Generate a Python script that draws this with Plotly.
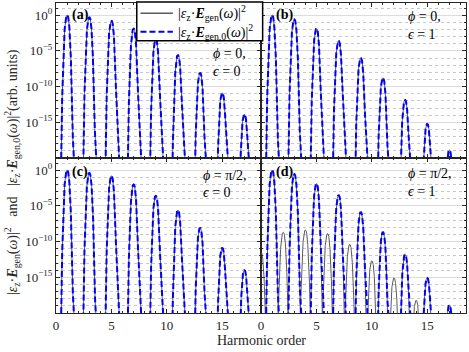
import numpy as np
import plotly.graph_objects as go
from plotly.subplots import make_subplots

# harmonic orders and peak heights
odd_orders = [1, 3, 5, 7, 9, 11, 13, 15, 17]
even_orders = [0, 2, 4, 6, 8, 10, 12, 14, 16]

peaks_a = [1.0, 5e-1, 1.6e-1, 1.3e-2, 4e-4, 2.5e-6, 8e-9, 1.3e-11, 1.3e-14]
peaks_b = [1.0, 2.5e-1, 1.3e-2, 2.5e-4, 1e-6, 1.6e-9, 1.3e-12, 6e-16, 1.3e-19]
peaks_c = [1.0, 4e-1, 1.6e-1, 1e-2, 2.5e-4, 2.5e-6, 8e-9, 1.3e-11, 1e-14]
peaks_d = [1.0, 2.8e-1, 1.3e-2, 3e-4, 1.3e-6, 2e-9, 1.6e-12, 8e-16, 1.3e-19]
even_peaks_d = [3e-12, 2e-9, 4e-9, 1.3e-9, 4e-11, 2e-13, 8e-16, 6e-19, 3e-22]

# peak profile: drop in decades = peak_k * |x - n| ** peak_p (read from peak widths)
peak_k = 89
peak_p = 2.5

panel_labels = ["(a)", "(b)", "(c)", "(d)"]
phi_text = ["0,", "0,", "π/2,", "π/2,"]
eps_text = ["0", "1", "0", "1"]

x = np.linspace(0, 18.5, 3000)


def spectrum(orders, heights):
    y = np.zeros_like(x)
    for n, h in zip(orders, heights):
        y += h * 10 ** (-peak_k * np.abs(x - n) ** peak_p)
    return np.maximum(y, 1e-40)


FONT = "Liberation Serif, DejaVu Serif, serif"
TXT = "#262626"
GRAY_LINE = "rgb(90,90,90)"

fig = make_subplots(rows=2, cols=2, shared_xaxes=True, shared_yaxes=True,
                    horizontal_spacing=0, vertical_spacing=0)

panels = [
    (1, 1, spectrum(odd_orders, peaks_a), spectrum(odd_orders, peaks_a)),
    (1, 2, spectrum(odd_orders, peaks_b), spectrum(odd_orders, peaks_b)),
    (2, 1, spectrum(odd_orders, peaks_c), spectrum(odd_orders, peaks_c)),
    (2, 2, spectrum(odd_orders, peaks_d) + spectrum(even_orders, even_peaks_d),
     spectrum(odd_orders, peaks_d)),
]

name_gen = "|<i>ε</i><sub>z</sub>·<b><i>E</i></b><sub>gen</sub>(<i>ω</i>)|<sup>2</sup>"
name_gen0 = "|<i>ε</i><sub>z</sub>·<b><i>E</i></b><sub>gen,0</sub>(<i>ω</i>)|<sup>2</sup>"

for i, (r, c, y_full, y_0) in enumerate(panels):
    fig.add_trace(go.Scatter(x=x, y=y_full, mode="lines", name=name_gen,
                             line=dict(color=GRAY_LINE, width=1),
                             showlegend=False), row=r, col=c)
    fig.add_trace(go.Scatter(x=x, y=y_0, mode="lines", name=name_gen0,
                             line=dict(color="blue", width=2, dash="6px,3px"),
                             showlegend=False), row=r, col=c)

major_y = [1, 1e-5, 1e-10, 1e-15]
major_y_text = ["10<sup>0</sup>", "10<sup>−5</sup>", "10<sup>−10</sup>", "10<sup>−15</sup>"]
minor_y = [10.0 ** -k for k in range(1, 20) if k % 5 != 0] + [10.0]

fig.update_yaxes(type="log", range=[-20, 1.7], tickvals=major_y, ticktext=major_y_text,
                 ticks="inside", ticklen=4, tickcolor=TXT, automargin=False,
                 showline=True, linecolor=TXT, linewidth=1, mirror="ticks",
                 showgrid=True, gridcolor="#dcdcdc", gridwidth=1, zeroline=False,
                 minor=dict(tickvals=minor_y, ticks="inside", ticklen=2, tickcolor=TXT,
                            showgrid=True, gridcolor="#c8c8c8", griddash="dot"),
                 tickfont=dict(family=FONT, size=13, color=TXT))
fig.update_xaxes(range=[0, 18.5], tickvals=[0, 5, 10, 15], automargin=False,
                 ticks="inside", ticklen=4, tickcolor=TXT,
                 showline=True, linecolor=TXT, linewidth=1, mirror="ticks",
                 showgrid=False, zeroline=False,
                 minor=dict(tickvals=list(range(1, 19)), ticks="inside", ticklen=2,
                            tickcolor=TXT, showgrid=False),
                 tickfont=dict(family=FONT, size=13, color=TXT))

# panel labels and parameter text
axis_ids = ["", "2", "3", "4"]
label_pos = [(0.068, 0.925), (0.064, 0.925), (0.068, 0.91), (0.064, 0.91)]
param_pos = [(0.756, 0.677, 0.555), (0.706, 0.91, 0.794),
             (0.707, 0.89, 0.776), (0.709, 0.9, 0.783)]
for i, ax in enumerate(axis_ids):
    lx, ly = label_pos[i]
    fig.add_annotation(xref=f"x{ax} domain", yref=f"y{ax} domain", x=lx, y=ly,
                       xanchor="left", yanchor="middle", showarrow=False,
                       text=f"<b>{panel_labels[i]}</b>",
                       font=dict(family=FONT, size=14, color="black"))
    px, py1, py2 = param_pos[i]
    fig.add_annotation(xref=f"x{ax} domain", yref=f"y{ax} domain", x=px, y=py1,
                       xanchor="left", yanchor="middle", showarrow=False,
                       text=f"<i>ϕ</i> = {phi_text[i]}",
                       font=dict(family=FONT, size=14, color="black"))
    fig.add_annotation(xref=f"x{ax} domain", yref=f"y{ax} domain", x=px, y=py2,
                       xanchor="left", yanchor="middle", showarrow=False,
                       text=f"<i>ϵ</i> = {eps_text[i]}",
                       font=dict(family=FONT, size=14, color="black"))

# legend box drawn by hand (plotly's legend grows too tall with sub/superscripts)
fig.add_shape(type="rect", xref="paper", yref="paper", x0=0.197, x1=0.504, y0=0.878, y1=1.003,
              line=dict(color="black", width=1.5), fillcolor="white", layer="above")
fig.add_shape(type="line", xref="paper", yref="paper", x0=0.206, x1=0.285, y0=0.967, y1=0.967,
              line=dict(color=GRAY_LINE, width=1.5), layer="above")
fig.add_shape(type="line", xref="paper", yref="paper", x0=0.206, x1=0.285, y0=0.907, y1=0.907,
              line=dict(color="blue", width=2, dash="6px,3px"), layer="above")
for text, ty in [(name_gen, 0.967), (name_gen0, 0.907)]:
    fig.add_annotation(xref="paper", yref="paper", x=0.293, y=ty, xanchor="left",
                       yanchor="middle", showarrow=False, text=text,
                       font=dict(family=FONT, size=14, color="black"))

fig.add_annotation(xref="paper", yref="paper", x=0.502, y=-0.09,
                   xanchor="center", yanchor="middle", showarrow=False,
                   text="Harmonic order", font=dict(family=FONT, size=14, color=TXT))
fig.add_annotation(xref="paper", yref="paper", x=-0.107, y=0.455,
                   xanchor="center", yanchor="middle", showarrow=False, textangle=-90,
                   text=name_gen + "   and   " + name_gen0 + "(arb. units)",
                   font=dict(family=FONT, size=14, color=TXT))

fig.update_layout(
    width=469, height=352,
    margin=dict(l=56, r=3, t=3, b=39),
    paper_bgcolor="white", plot_bgcolor="white",
    showlegend=False,
)

# drop the browser's default 8px body margin so the figure fills the window
fig.write_html("out.html", config={"displayModeBar": False},
               post_script="document.body.style.margin='0';")
